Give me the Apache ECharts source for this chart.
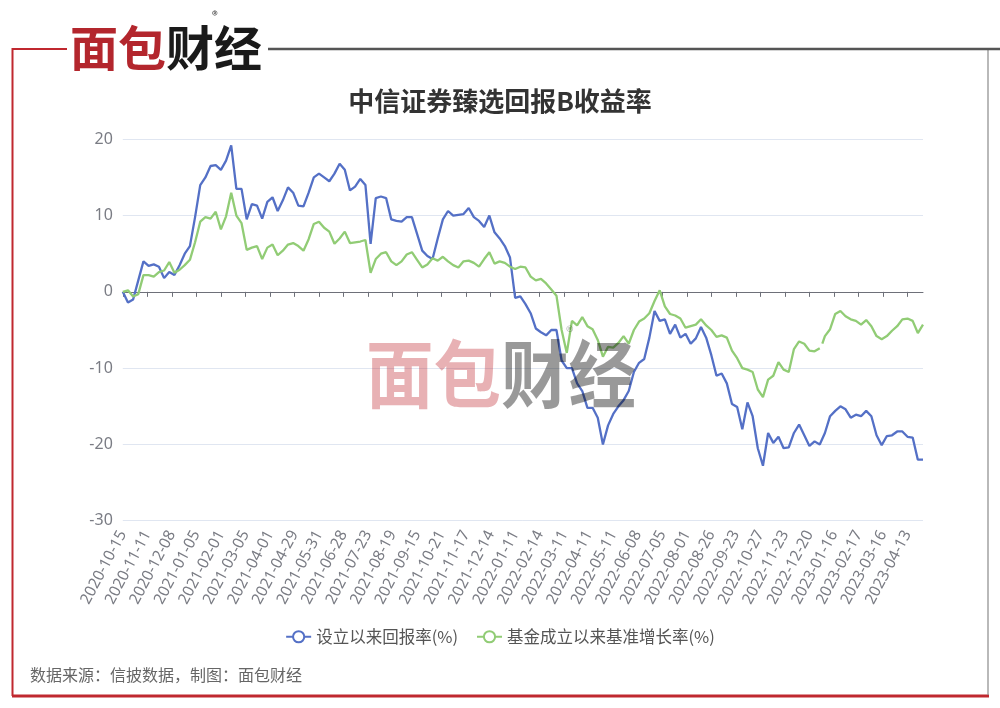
<!DOCTYPE html>
<html><head><meta charset="utf-8">
<script src="https://cdn.jsdelivr.net/npm/echarts@6/dist/echarts.min.js"></script>
<style>html,body{margin:0;padding:0;background:#fff}#main{width:1000px;height:708px}</style>
</head><body><div id="main"></div>
<script>
// ---- data ----
const titleText = '中信证券臻选回报B收益率';
const seriesNames = ['设立以来回报率(%)', '基金成立以来基准增长率(%)'];
const sourceText = '数据来源：信披数据，制图：面包财经';
const startDate = '2020-10-15';
const endDate = '2023-05-04';
// exchange closed weekdays in the range
const closedDays = ['2021-01-01','2021-02-11','2021-02-12','2021-02-15','2021-02-16','2021-02-17','2021-04-05',
  '2021-05-03','2021-05-04','2021-05-05','2021-06-14','2021-09-20','2021-09-21','2021-10-01','2021-10-04',
  '2021-10-05','2021-10-06','2021-10-07','2022-01-03','2022-01-31','2022-02-01','2022-02-02','2022-02-03',
  '2022-02-04','2022-04-04','2022-04-05','2022-05-02','2022-05-03','2022-05-04','2022-06-03','2022-09-12',
  '2022-10-03','2022-10-04','2022-10-05','2022-10-06','2022-10-07','2023-01-02','2023-01-23','2023-01-24',
  '2023-01-25','2023-01-26','2023-01-27','2023-04-05','2023-05-01','2023-05-02','2023-05-03'];
// non-trading dates that still carry a NAV
const extraDays = ['2022-12-31'];
// values sampled every 4th date
const sampleStep = 4;
const returnValues = [
  0, -1.4, -1.0, 1.5, 4.0, 3.4, 3.6, 3.3, 1.8, 2.6,
  2.2, 3.5, 5.0, 6.0, 9.8, 14.0, 15.0, 16.5, 16.6, 16.0,
  17.2, 19.2, 13.5, 13.5, 9.5, 11.5, 11.3, 9.6, 11.8, 12.4,
  10.6, 12.0, 13.7, 13.0, 11.3, 11.2, 13.0, 15.0, 15.5, 15.0,
  14.5, 15.5, 16.8, 16.0, 13.3, 13.8, 14.8, 14.0, 6.3, 12.3,
  12.5, 12.3, 9.5, 9.3, 9.2, 9.8, 9.8, 7.6, 5.4, 4.7,
  4.3, 7.0, 9.5, 10.6, 10.0, 10.1, 10.2, 11.0, 9.8, 9.3,
  8.5, 10.0, 7.8, 7.0, 6.0, 4.5, -0.8, -0.6, -1.6, -2.8,
  -4.8, -5.3, -5.7, -5.0, -5.0, -9.0, -10.0, -10.0, -12.0, -13.0,
  -15.2, -15.2, -16.5, -20.0, -17.5, -16.0, -15.0, -14.2, -13.0, -10.5,
  -9.3, -8.8, -6.0, -2.5, -3.8, -3.6, -5.5, -4.3, -6.0, -5.5,
  -6.8, -6.1, -4.6, -6.0, -8.3, -11.0, -10.7, -12.0, -14.7, -15.1,
  -18.0, -14.5, -16.3, -20.5, -22.8, -18.5, -19.8, -19.0, -20.5, -20.4,
  -18.5, -17.4, -18.8, -20.2, -19.6, -20.0, -18.5, -16.3, -15.6, -15.0,
  -15.4, -16.5, -16.1, -16.3, -15.6, -16.3, -18.8, -20.1, -18.9, -18.8,
  -18.3, -18.3, -19.0, -19.1, -22.0, -22.0
];
const benchmarkValues = [
  0, 0.2, -0.6, -0.3, 2.2, 2.2, 2.0, 2.6, 2.8, 3.9,
  2.5, 2.9, 3.5, 4.2, 6.5, 9.2, 9.8, 9.6, 10.5, 8.2,
  9.9, 13.0, 10.0, 9.0, 5.5, 5.8, 6.0, 4.3, 5.8, 6.2,
  4.8, 5.4, 6.2, 6.4, 6.0, 5.4, 6.9, 8.9, 9.2, 8.4,
  7.9, 6.3, 7.0, 7.9, 6.4, 6.5, 6.6, 6.8, 2.5, 4.3,
  5.0, 5.2, 4.0, 3.5, 4.0, 4.9, 5.2, 4.2, 3.2, 3.6,
  4.4, 4.1, 4.6, 4.0, 3.5, 3.2, 4.0, 4.1, 3.8, 3.3,
  4.3, 5.2, 3.7, 4.0, 3.8, 3.3, 3.0, 3.3, 3.2, 2.0,
  1.5, 1.7, 1.1, 0.3, -0.5, -5.0, -8.0, -3.8, -4.4, -3.3,
  -4.5, -4.9, -6.3, -8.5, -7.2, -7.3, -6.7, -5.8, -6.8, -5.0,
  -3.9, -3.5, -2.8, -1.2, 0.2, -1.9, -2.9, -3.1, -3.5, -4.7,
  -4.5, -4.3, -3.6, -4.4, -5.0, -5.9, -5.7, -6.0, -7.7, -8.7,
  -10.0, -10.2, -10.5, -12.8, -13.8, -11.5, -11.0, -9.2, -10.2, -10.5,
  -7.5, -6.5, -6.8, -7.7, -7.8, -7.4, -5.8, -4.9, -2.9, -2.5,
  -3.2, -3.6, -3.8, -4.3, -3.7, -4.5, -5.8, -6.2, -5.8, -5.1,
  -4.5, -3.6, -3.5, -3.8, -5.4, -4.3
];
// extra benchmark readings around its one missing date: [date index, value]
const benchmarkGap = [[541, null], [542, -6.8]];
const yMin = -30, yMax = 20, yInterval = 10;

// ---- categories (dates) ----
function buildDates() {
  const out = [];
  const d = new Date(startDate + 'T00:00:00Z');
  const end = new Date(endDate + 'T00:00:00Z');
  while (d <= end) {
    const s = d.toISOString().slice(0, 10);
    const wd = d.getUTCDay();
    if ((wd >= 1 && wd <= 5 && closedDays.indexOf(s) < 0) || extraDays.indexOf(s) >= 0) out.push(s);
    d.setUTCDate(d.getUTCDate() + 1);
  }
  return out;
}
const dates = buildDates();
const toPairs = vals => vals.map((v, j) => [j * sampleStep, v]);
const benchmarkData = toPairs(benchmarkValues).concat(benchmarkGap).sort((a, b) => a[0] - b[0]);

const chart = echarts.init(document.getElementById('main'), null, {renderer: 'canvas'});
const cjk = '"Noto Sans CJK SC", "Noto Sans", sans-serif';
const option = {
  backgroundColor: '#fff',
  animation: false,
  title: {
    text: titleText, left: 'center', top: 83,
    textStyle: {fontSize: 26, fontWeight: 'bold', color: '#333', fontFamily: cjk}
  },
  legend: {
    bottom: 58, left: 'center', itemGap: 18, itemWidth: 25, itemHeight: 14,
    textStyle: {fontSize: 16.5, color: '#555', fontFamily: cjk},
    data: seriesNames
  },
  grid: {left: 122.8, right: 77, top: 139.3, bottom: 187.3, containLabel: false},
  xAxis: [
    {
      type: 'category', data: dates, boundaryGap: false, position: 'bottom',
      axisLine: {onZero: true, lineStyle: {color: '#6E7079'}},
      axisTick: {show: true, interval: 18, length: 5, lineStyle: {color: '#6E7079'}},
      axisLabel: {show: false, interval: 18}
    },
    {
      type: 'category', data: dates, boundaryGap: false, position: 'bottom',
      axisLine: {show: false, onZero: false}, axisTick: {show: false},
      axisLabel: {interval: 18, rotate: 62, margin: 11, fontSize: 15.5, color: '#7a7c84', fontFamily: '"Noto Sans", sans-serif'}
    }
  ],
  yAxis: {
    type: 'value', min: yMin, max: yMax, interval: yInterval,
    axisLine: {show: false}, axisTick: {show: false},
    axisLabel: {fontSize: 16, color: '#7a7c84', margin: 10, fontFamily: '"Noto Sans", sans-serif'},
    splitLine: {lineStyle: {color: '#E0E6F1'}}
  },
  series: [
    {name: seriesNames[0], type: 'line', xAxisIndex: 0, data: toPairs(returnValues), showSymbol: false,
     symbol: 'emptyCircle', symbolSize: 8, color: '#5470c6', lineStyle: {width: 2.3}, connectNulls: false},
    {name: seriesNames[1], type: 'line', xAxisIndex: 0, data: benchmarkData, showSymbol: false,
     symbol: 'emptyCircle', symbolSize: 8, color: '#91cc75', lineStyle: {width: 2.3}, connectNulls: false}
  ],
  graphic: [
    // frame
    {type: 'polyline', shape: {points: [[67, 49], [12.5, 49], [12.5, 696]]}, style: {stroke: '#c0282f', lineWidth: 2, fill: null}, silent: true},
    {type: 'line', shape: {x1: 12, y1: 696, x2: 989, y2: 696}, style: {stroke: '#c0282f', lineWidth: 3}, silent: true},
    {type: 'line', shape: {x1: 988, y1: 49, x2: 988, y2: 695}, style: {stroke: '#8a8a8a', lineWidth: 1.2}, silent: true},
    {type: 'line', shape: {x1: 268, y1: 49, x2: 1000, y2: 49}, style: {stroke: '#555', lineWidth: 2.5}, silent: true},
    // logo
    {type: 'text', x: 70, y: 24, style: {text: '面包', fill: '#b3262d', font: 'bold 48px ' + cjk, verticalAlign: 'top'}, silent: true},
    {type: 'text', x: 166, y: 24, style: {text: '财经', fill: '#1a1a1a', font: 'bold 48px ' + cjk, verticalAlign: 'top'}, silent: true},
    {type: 'text', x: 212, y: 9, style: {text: '®', fill: '#444', font: '12px ' + cjk, verticalAlign: 'top'}, silent: true},
    // watermark
    {type: 'text', x: 366, y: 336.5, scaleY: 1.1, z: 100, style: {text: '面包', fill: 'rgba(192,40,47,0.36)', font: 'bold 67.5px ' + cjk, verticalAlign: 'top'}, silent: true},
    {type: 'text', x: 501, y: 336.5, scaleY: 1.1, z: 100, style: {text: '财经', fill: 'rgba(0,0,0,0.4)', font: 'bold 67.5px ' + cjk, verticalAlign: 'top'}, silent: true},
    {type: 'text', x: 566, y: 324, z: 100, style: {text: '®', fill: 'rgba(0,0,0,0.3)', font: '16px ' + cjk, verticalAlign: 'top'}, silent: true},
    // source
    {type: 'text', left: 30, top: 667, style: {text: sourceText, fill: '#666', font: '16px ' + cjk}, silent: true}
  ]
};
chart.setOption(option);
</script></body></html>
